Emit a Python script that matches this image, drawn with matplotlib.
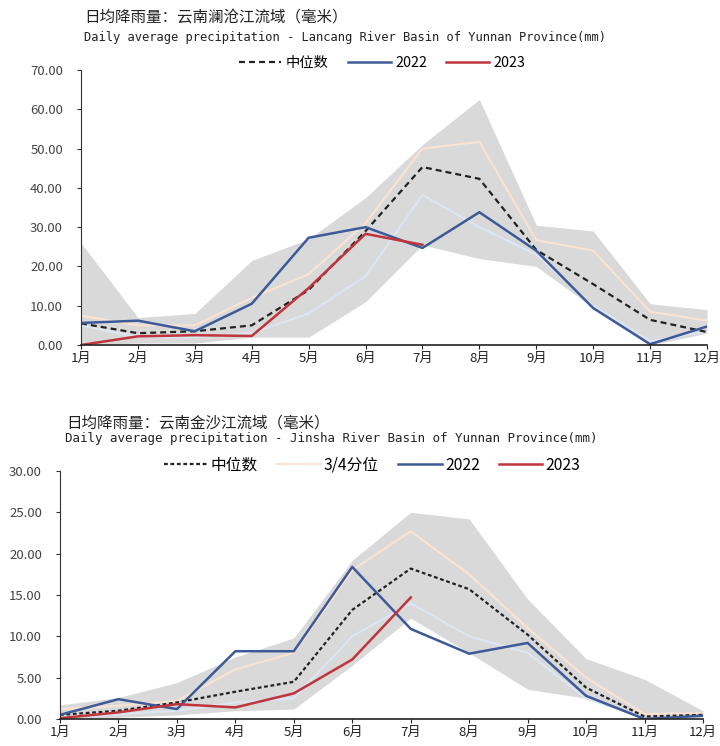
import matplotlib
matplotlib.use('Agg')
import matplotlib.pyplot as plt

plt.rcParams['font.family'] = ['Noto Sans CJK SC', 'DejaVu Sans']

months = ['1月', '2月', '3月', '4月', '5月', '6月', '7月', '8月', '9月', '10月', '11月', '12月']

# 澜沧江
lc_max = [26.0, 7.0, 8.0, 21.5, 27.0, 37.5, 51.0, 62.5, 30.5, 29.0, 10.5, 9.0]
lc_min = [0.0, 0.5, 0.5, 2.0, 2.0, 11.0, 25.5, 22.0, 20.0, 9.5, 0.0, 3.0]
lc_q3 = [7.5, 5.0, 5.0, 12.0, 18.0, 31.0, 50.0, 51.7, 26.7, 24.0, 8.5, 6.2]
lc_q1 = [5.0, 2.0, 2.0, 3.0, 8.0, 17.5, 38.2, 30.0, 23.0, 10.0, 1.0, 3.5]
lc_med = [5.5, 3.0, 3.5, 5.0, 14.0, 29.0, 45.3, 42.3, 24.2, 15.5, 6.4, 3.3]
lc_2022 = [5.6, 6.2, 3.5, 10.5, 27.3, 30.0, 24.7, 33.8, 24.0, 9.4, 0.2, 4.7]
lc_2023 = [0.0, 2.2, 2.5, 2.3, 14.5, 28.3, 25.5]

# 金沙江
js_max = [1.7, 2.6, 4.4, 7.5, 9.8, 19.2, 25.0, 24.2, 14.5, 7.3, 4.8, 1.0]
js_min = [0.0, 0.2, 0.5, 1.0, 1.2, 6.5, 12.2, 8.0, 3.6, 2.5, 0.0, 0.2]
js_q3 = [1.2, 1.6, 2.2, 6.0, 8.0, 18.0, 22.7, 17.5, 11.0, 5.0, 0.6, 0.7]
js_q1 = [0.3, 0.6, 1.0, 2.0, 2.5, 10.0, 14.0, 10.0, 8.0, 2.5, 0.1, 0.3]
js_med = [0.5, 1.0, 2.0, 3.3, 4.5, 13.2, 18.2, 15.7, 10.2, 3.8, 0.3, 0.5]
js_2022 = [0.5, 2.4, 1.2, 8.2, 8.2, 18.4, 10.9, 7.9, 9.2, 2.8, 0.0, 0.4]
js_2023 = [0.1, 0.8, 1.8, 1.4, 3.1, 7.2, 14.7]

BLUE = '#3D5A98'
RED = '#C0343C'
GRAY = '#D9D9D9'
PEACH = '#FBE3D2'
LBLUE = '#DDE6F3'


def draw(ax, mx, mn, q3, q1, med, y22, y23, ymax, dash, show_q3):
    x = list(range(12))
    ax.fill_between(x, mn, mx, color=GRAY, lw=0)
    ax.plot(x, q1, color=LBLUE, lw=1.5)
    l_q3, = ax.plot(x, q3, color=PEACH, lw=1.5, label='3/4分位')
    l_med, = ax.plot(x, med, color='#222222', lw=1.6, dashes=dash, label='中位数')
    l22, = ax.plot(x, y22, color=BLUE, lw=1.8, label='2022')
    l23, = ax.plot(range(len(y23)), y23, color=RED, lw=1.8, label='2023')
    ax.set_xlim(0, 11)
    ax.set_ylim(0, ymax)
    ax.set_xticks(x)
    ax.set_xticklabels(months, fontsize=9.5)
    ax.yaxis.set_major_formatter(matplotlib.ticker.FormatStrFormatter('%.2f'))
    ax.tick_params(axis='y', labelsize=9.5, labelcolor='#444444', color='#333333', length=3, pad=10)
    ax.tick_params(axis='x', length=3, pad=2, colors='#222222')
    for s in ['top', 'right']:
        ax.spines[s].set_visible(False)
    ax.spines['left'].set_color('#333333')
    ax.spines['bottom'].set_color('#222222')
    ax.spines['bottom'].set_linewidth(1.2)
    handles = [l_med, l_q3, l22, l23] if show_q3 else [l_med, l22, l23]
    return handles


fig = plt.figure(figsize=(7.2, 7.46), dpi=100)

ax1 = fig.add_axes([81 / 720, 1 - 345 / 746, 626 / 720, 275 / 746])
h1 = draw(ax1, lc_max, lc_min, lc_q3, lc_q1, lc_med, lc_2022, lc_2023, 70, (2.7, 1.8), False)
ax1.set_yticks(range(0, 71, 10))
fig.text(84 / 720, 1 - 18 / 746, '日均降雨量：云南澜沧江流域（毫米）', fontsize=11.2, va='center', color='#222222')
fig.text(84 / 720, 1 - 37 / 746, 'Daily average precipitation - Lancang River Basin of Yunnan Province(mm)',
         fontsize=8.7, va='center', color='#222222', family='DejaVu Sans Mono')
fig.legend(handles=h1, loc='center', bbox_to_anchor=(382 / 720, 1 - 63 / 746), ncol=3,
           frameon=False, fontsize=10.3, handlelength=3.0, columnspacing=1.35, handletextpad=0.3)

ax2 = fig.add_axes([60 / 720, 1 - 719 / 746, 643 / 720, 248 / 746])
h2 = draw(ax2, js_max, js_min, js_q3, js_q1, js_med, js_2022, js_2023, 30, (1.7, 1.2), True)
ax2.set_yticks([0, 5, 10, 15, 20, 25, 30])
fig.text(66 / 720, 1 - 423 / 746, '日均降雨量：云南金沙江流域（毫米）', fontsize=11.2, va='center', color='#222222')
fig.text(65 / 720, 1 - 439 / 746, 'Daily average precipitation - Jinsha River Basin of Yunnan Province(mm)',
         fontsize=9.0, va='center', color='#222222', family='DejaVu Sans Mono')
fig.legend(handles=h2, loc='center', bbox_to_anchor=(372 / 720, 1 - 465 / 746), ncol=4,
           frameon=False, fontsize=11.3, handlelength=2.8, columnspacing=1.2, handletextpad=0.2)

fig.savefig('out.png', dpi=100)
